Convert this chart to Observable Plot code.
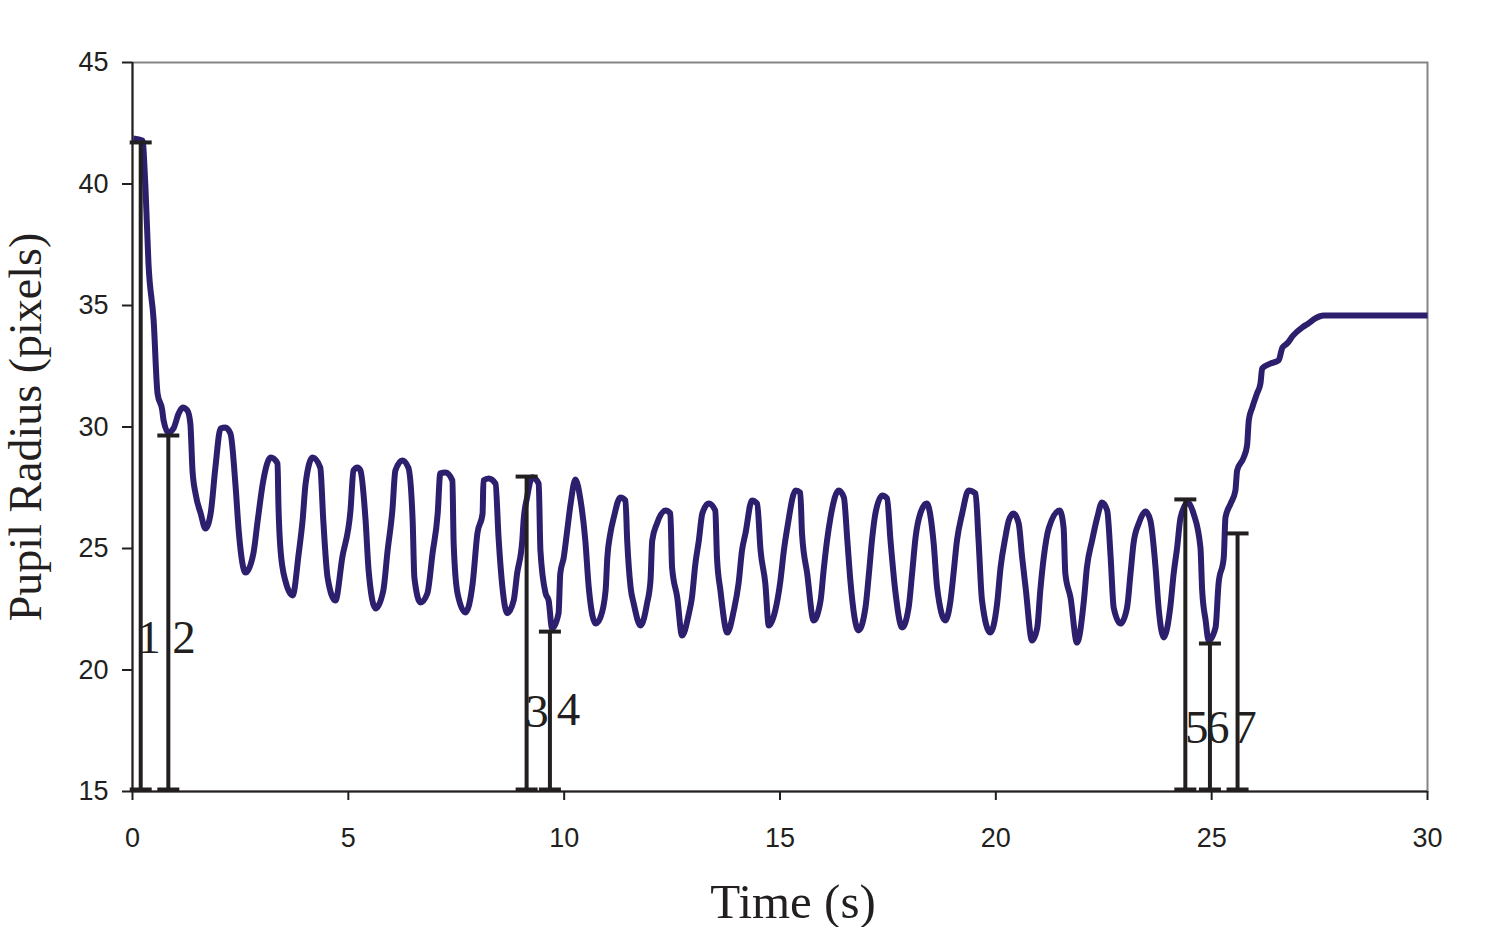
<!DOCTYPE html>
<html>
<head>
<meta charset="utf-8">
<script src="https://cdn.jsdelivr.net/npm/d3@7"></script>
<script src="https://cdn.jsdelivr.net/npm/@observablehq/plot@0.6"></script>
<style>
  html, body { margin: 0; padding: 0; background: #fff; }
</style>
</head>
<body>
<div id="chart"></div>
<script>
// ---- Data ----
const timeS = [
  0.02, 0.23, 0.30, 0.37, 0.49, 0.58, 0.69, 0.72, 0.83, 0.95, 1.07, 1.16, 1.27, 1.34, 1.39, 1.46, 1.58, 1.69,
  1.81, 1.92, 2.04, 2.15, 2.27, 2.39, 2.46, 2.62, 2.80, 2.90, 3.03, 3.20, 3.36, 3.38, 3.43, 3.54, 3.71,
  3.85, 3.94, 4.01, 4.17, 4.35, 4.42, 4.52, 4.70, 4.86, 5.05, 5.12, 5.21, 5.28, 5.40, 5.47, 5.63,
  5.81, 5.91, 6.02, 6.09, 6.25, 6.39, 6.49, 6.53, 6.67, 6.83, 6.95, 7.07, 7.13, 7.25, 7.41, 7.44, 7.53, 7.71,
  7.88, 7.99, 8.11, 8.13, 8.25, 8.41, 8.48, 8.57, 8.68, 8.83, 8.91, 9.03, 9.06, 9.14, 9.26, 9.41, 9.45,
  9.57, 9.64, 9.72, 9.87, 9.91, 9.99, 10.07, 10.15, 10.26, 10.38, 10.49, 10.57, 10.73, 10.84, 10.96,
  11.00, 11.07, 11.15, 11.30, 11.42, 11.46, 11.54, 11.61, 11.77, 11.92, 12.00, 12.04, 12.15, 12.35,
  12.46, 12.50, 12.62, 12.73, 12.89, 12.96, 13.04, 13.12, 13.20, 13.35, 13.50, 13.54, 13.62, 13.78,
  13.93, 14.04, 14.12, 14.20, 14.35, 14.47, 14.55, 14.66, 14.74, 14.89, 15.01, 15.09, 15.17, 15.36,
  15.47, 15.51, 15.63, 15.78, 15.94, 16.01, 16.09, 16.17, 16.36, 16.48, 16.56, 16.63, 16.82, 16.98,
  17.06, 17.13, 17.21, 17.37, 17.48, 17.56, 17.67, 17.83, 17.98, 18.06, 18.14, 18.25, 18.40, 18.56,
  18.64, 18.83, 18.95, 19.02, 19.10, 19.22, 19.37, 19.53, 19.60, 19.68, 19.87, 20.03, 20.11, 20.22,
  20.30, 20.41, 20.53, 20.61, 20.69, 20.84, 20.96, 21.03, 21.11, 21.23, 21.48, 21.57, 21.61, 21.73,
  21.88, 22.04, 22.11, 22.23, 22.35, 22.46, 22.58, 22.66, 22.73, 22.89, 23.04, 23.12, 23.19, 23.31,
  23.47, 23.58, 23.70, 23.77, 23.89, 24.04, 24.12, 24.20, 24.28, 24.45, 24.58, 24.74, 24.78, 24.86,
  24.93, 25.09, 25.16, 25.28, 25.32, 25.44, 25.55, 25.59, 25.74, 25.82, 25.86, 25.94, 26.05, 26.13,
  26.17, 26.36, 26.55, 26.64, 26.75, 26.89, 27.10, 27.24, 27.40, 27.59, 30.00
];
const radiusPx = [
  41.87, 41.79, 39.86, 36.73, 34.38, 31.38, 30.68, 30.27, 29.77, 29.94, 30.56, 30.80, 30.68, 30.14, 28.21, 27.26, 26.44, 25.82,
  26.44, 28.33, 29.94, 29.98, 29.73, 27.51, 25.74, 24.01, 24.79, 26.15, 27.80, 28.74, 28.50, 26.85, 24.92, 23.68, 23.07,
  24.79, 26.15, 27.67, 28.74, 28.33, 26.15, 23.80, 22.86, 24.63, 26.56, 28.21, 28.33, 28.21, 26.15, 24.09, 22.53,
  23.27, 24.92, 26.56, 28.21, 28.62, 28.33, 26.15, 23.80, 22.78, 23.15, 24.79, 26.44, 28.09, 28.13, 27.80, 25.21, 23.15, 22.37,
  23.56, 25.62, 26.44, 27.80, 27.88, 27.67, 25.45, 23.40, 22.34, 22.86, 23.97, 25.33, 26.15, 27.10, 27.93, 27.67, 24.92,
  23.15, 22.86, 21.71, 22.33, 23.97, 24.63, 25.74, 26.85, 27.84, 26.98, 25.33, 23.39, 21.91, 22.16, 23.27,
  24.63, 25.62, 26.28, 27.10, 26.98, 25.33, 23.39, 22.74, 21.83, 22.74, 23.68, 25.33, 26.03, 26.56,
  26.44, 24.22, 22.98, 21.42, 22.33, 22.98, 24.38, 25.33, 26.44, 26.85, 26.56, 24.63, 23.27, 21.54,
  22.45, 23.56, 24.92, 25.62, 26.98, 26.85, 24.92, 23.56, 21.83, 22.45, 23.68, 24.92, 25.86, 27.39,
  27.30, 25.62, 23.97, 22.04, 22.86, 24.09, 25.33, 26.28, 27.39, 27.10, 25.33, 23.68, 21.63, 22.57,
  23.97, 25.33, 26.44, 27.18, 27.06, 25.33, 23.27, 21.75, 22.57, 23.97, 25.45, 26.44, 26.85, 25.21,
  23.39, 22.04, 22.86, 23.97, 25.33, 26.44, 27.39, 27.26, 25.33, 22.86, 21.54, 22.74, 24.22, 25.45,
  26.15, 26.44, 26.03, 24.63, 23.39, 21.21, 21.75, 23.27, 24.63, 25.86, 26.56, 25.86, 23.97, 22.98,
  21.13, 22.86, 24.22, 25.33, 26.28, 26.89, 26.56, 24.63, 22.57, 21.91, 22.57, 23.97, 25.21, 26.03,
  26.52, 26.15, 24.22, 22.57, 21.34, 22.57, 23.97, 25.04, 26.28, 26.89, 26.44, 25.04, 23.27, 22.04,
  21.21, 21.75, 23.56, 24.63, 26.28, 26.85, 27.39, 28.21, 28.74, 29.24, 30.27, 30.80, 31.38, 31.79,
  32.41, 32.61, 32.74, 33.27, 33.44, 33.77, 34.10, 34.26, 34.47, 34.59, 34.59
];

// Numbered vertical markers
const markerIds   = ["1", "2", "3", "4", "5", "6", "7"];
const markerTimes = [0.19, 0.83, 9.13, 9.67, 24.39, 24.96, 25.60];
const markerTops  = [41.71, 29.65, 27.96, 21.58, 27.02, 21.09, 25.62];
// Annotation anchors for the numbers (seconds, pixels of radius)
const labelTimes  = [0.11, 0.92, 9.10, 9.83, 24.38, 24.87, 25.50];
const labelRadius = [20.72, 20.72, 17.67, 17.75, 16.98, 16.98, 16.98];

const xTicks = [0, 5, 10, 15, 20, 25, 30];
const yTicks = [15, 20, 25, 30, 35, 40, 45];
const xTitle = "Time (s)";
const yTitle = "Pupil Radius (pixels)";

// ---- Build tables ----
const trace = timeS.map((t, i) => ({t, r: radiusPx[i]}));
const markers = markerIds.map((id, i) => ({
  id, t: markerTimes[i], top: markerTops[i], lt: labelTimes[i], lr: labelRadius[i]
}));

const ink = "#231f20";
const serif = "'Liberation Serif', 'Times New Roman', Times, serif";
const capSymbol = {
  draw(context) { context.moveTo(-11, 0); context.lineTo(11, 0); }
};

const chart = Plot.plot({
  width: 1486,
  height: 927,
  marginLeft: 132,
  marginRight: 59,
  marginTop: 62,
  marginBottom: 136,
  x: {domain: [0, 30]},
  y: {domain: [15, 45]},
  style: {
    fontFamily: "'Liberation Sans', Arial, sans-serif",
    fontSize: "27px",
    color: ink,
    background: "#fff",
    overflow: "visible"
  },
  marks: [
    Plot.frame({stroke: "#858585", strokeWidth: 2}),
    Plot.ruleX([0], {stroke: ink, strokeWidth: 2}),
    Plot.ruleY([15], {stroke: ink, strokeWidth: 2}),
    Plot.axisY({ticks: yTicks, tickSize: 10, tickPadding: 14, label: null, fontSize: 27, strokeWidth: 2}),
    Plot.axisX({ticks: xTicks, tickSize: 9, tickPadding: 27, label: null, fontSize: 27, strokeWidth: 2}),
    Plot.line(trace, {
      x: "t", y: "r", stroke: "#2d1f6e", strokeWidth: 6, curve: "monotone-x",
      strokeLinejoin: "round", strokeLinecap: "butt"
    }),
    Plot.ruleX(markers, {x: "t", y1: 15, y2: "top", stroke: ink, strokeWidth: 4}),
    Plot.dot(markers, {x: "t", y: "top", symbol: capSymbol, r: 5, fill: "none", stroke: ink, strokeWidth: 4}),
    Plot.dot(markers, {x: "t", y: () => 15, dy: -2, symbol: capSymbol, r: 5, fill: "none", stroke: ink, strokeWidth: 4}),
    Plot.text(markers, {
      x: "lt", y: "lr", text: "id", textAnchor: "start", lineAnchor: "bottom",
      fontSize: 47, fontFamily: serif, fill: ink
    }),
    Plot.text([xTitle], {
      text: d => d, frameAnchor: "bottom", textAnchor: "middle", lineAnchor: "bottom",
      dx: 13, dy: 126, fontSize: 49, fontFamily: serif, fill: ink
    }),
    Plot.text([yTitle], {
      text: d => d, frameAnchor: "left", textAnchor: "middle", lineAnchor: "middle",
      rotate: -90, dx: -106, fontSize: 46, fontFamily: serif, fill: ink
    })
  ]
});

document.getElementById("chart").appendChild(chart);
</script>
</body>
</html>
